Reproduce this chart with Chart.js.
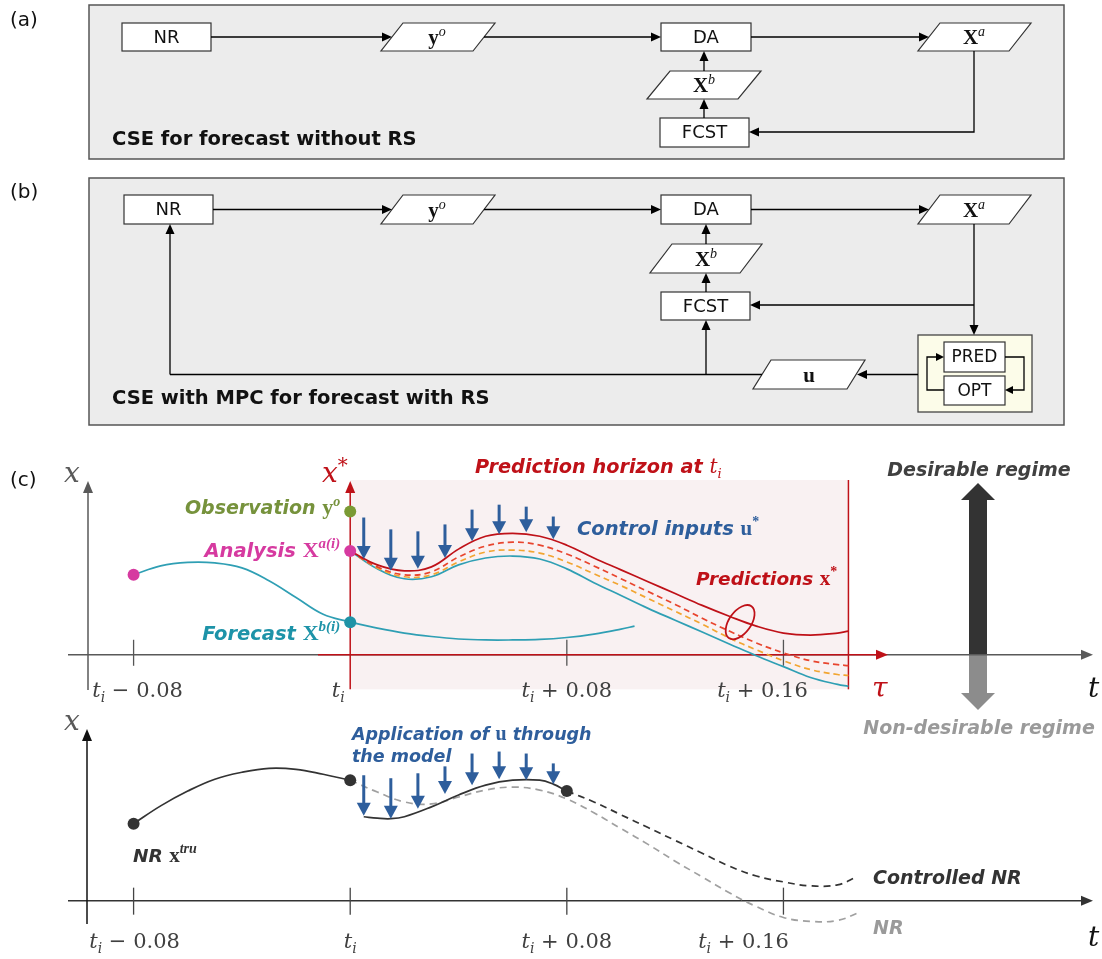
<!DOCTYPE html>
<html>
<head>
<meta charset="utf-8">
<script src="https://cdn.jsdelivr.net/npm/chart.js@4.4.1/dist/chart.umd.min.js"></script>
<style>
html,body{margin:0;padding:0;background:#ffffff;overflow:hidden;}
#wrap{position:relative;width:1102px;height:959px;}
canvas{display:block;}
</style>
</head>
<body>
<div id="wrap"><canvas id="chart" width="1102" height="959" style="width:1102px;height:959px"></canvas></div>
<script>
// ================= DATA (time is t - t_i, state x in arbitrary units) =================
const tickTimes  = [-0.08, 0, 0.08, 0.16];
const tickSuffix = ['\u2212 0.08', '', '+ 0.08', '+ 0.16'];
const horizonEnd = 0.184;

// upper panel
const tBefore        = [-0.08,-0.07,-0.06,-0.05,-0.04,-0.03,-0.02,-0.01,0];
const forecastBefore = [0.81,0.90,0.935,0.93,0.88,0.75,0.58,0.41,0.33];
const tForecastAfter = [0,0.01,0.02,0.03,0.04,0.05,0.06,0.07,0.08,0.09,0.10,0.105];
const forecastAfter  = [0.33,0.27,0.22,0.185,0.16,0.15,0.15,0.155,0.175,0.21,0.26,0.29];
const tHorizon       = [0,0.01,0.02,0.03,0.04,0.05,0.06,0.07,0.08,0.09,0.10,0.11,0.12,0.13,0.14,0.15,0.16,0.17,0.18,0.184];
const predOptimal    = [1.05,0.91,0.85,0.89,1.07,1.20,1.23,1.20,1.11,0.98,0.86,0.74,0.62,0.50,0.39,0.29,0.22,0.20,0.22,0.24];
const predIterB      = [1.05,0.89,0.81,0.84,0.99,1.10,1.14,1.11,1.02,0.90,0.77,0.64,0.51,0.37,0.24,0.12,0.02,-0.06,-0.10,-0.11];
const predIterA      = [1.05,0.88,0.79,0.81,0.94,1.04,1.06,1.03,0.94,0.82,0.70,0.57,0.44,0.31,0.17,0.05,-0.06,-0.15,-0.20,-0.21];
const predFirstGuess = [1.05,0.87,0.77,0.79,0.91,0.98,1.00,0.97,0.87,0.73,0.60,0.47,0.35,0.23,0.11,-0.01,-0.12,-0.23,-0.30,-0.32];
const tInputs        = [0.005,0.015,0.025,0.035,0.045,0.055,0.065,0.075];
const inputTopFrom   = [1.39,1.27,1.25,1.32,1.47,1.52,1.50,1.40];
const inputTopTo     = [0.97,0.85,0.87,0.98,1.15,1.22,1.24,1.17];
const observationVal = 1.45;
const analysisVal    = 1.05;
const forecastVal    = 0.33;
const analysisPrevVal= 0.81;
const ellipseCenter  = [0.144, 0.33];

// lower panel
const nrBefore          = [0.78,0.96,1.11,1.23,1.30,1.34,1.33,1.28,1.22];
const tControlled       = [0.005,0.01,0.015,0.02,0.03,0.04,0.05,0.06,0.07,0.075,0.08];
const controlledNR      = [0.85,0.835,0.83,0.85,0.95,1.07,1.17,1.22,1.22,1.18,1.11];
const tFree             = [0,0.01,0.02,0.03,0.04,0.05,0.06,0.07,0.08,0.09,0.10,0.11,0.12,0.13,0.14,0.15,0.16,0.17,0.18,0.188];
const freeNR            = [1.22,1.10,1.00,0.98,1.05,1.12,1.15,1.12,1.03,0.89,0.73,0.57,0.40,0.24,0.08,-0.06,-0.17,-0.21,-0.20,-0.12];
const tControlledFuture = [0.08,0.09,0.10,0.11,0.12,0.13,0.14,0.15,0.16,0.17,0.18,0.187];
const controlledFuture  = [1.11,1.00,0.87,0.74,0.61,0.48,0.35,0.25,0.19,0.15,0.16,0.24];
const inputBotFrom      = [1.27,1.24,1.29,1.36,1.49,1.51,1.49,1.39];
const inputBotTo        = [0.86,0.83,0.93,1.08,1.17,1.23,1.22,1.18];
const nrDotTimes        = [-0.08, 0, 0.08];
const nrDotVals         = [0.78, 1.22, 1.11];

// ================= STYLE =================
const C = {
  teal:'#2f9fb4', tealText:'#1d93a8', red:'#bf1118', redDash:'#e8452e', orange:'#f2a531',
  blue:'#2e5e9c', green:'#7a9a34', greenText:'#76923c', magenta:'#d63aa0', pink:'#f9f1f2',
  dark:'#333333', gray:'#9a9a9a', axis:'#555555'
};
const SANS = '"DejaVu Sans"';
const SERIF = '"Liberation Serif"';
const MSERIF = '"DejaVu Serif"';

function pts(t, v){ return t.map((x,i)=>({x:x, y:v[i]})); }
function lineDs(label, t, v, axis, color, extra){
  return Object.assign({label, data:pts(t,v), yAxisID:axis, borderColor:color, backgroundColor:color,
    borderWidth:1.7, pointRadius:0, fill:false, tension:0.4}, extra||{});
}

// ================= DRAW HELPERS =================
function seg(ctx, p, color, w, dash){
  ctx.save(); ctx.strokeStyle=color||'#000'; ctx.lineWidth=w||1.3; if(dash) ctx.setLineDash(dash);
  ctx.beginPath(); ctx.moveTo(p[0][0],p[0][1]); for(let i=1;i<p.length;i++) ctx.lineTo(p[i][0],p[i][1]);
  ctx.stroke(); ctx.restore();
}
function head(ctx, x, y, ang, len, wid, color){
  ctx.save(); ctx.translate(x,y); ctx.rotate(ang); ctx.beginPath();
  ctx.moveTo(0,0); ctx.lineTo(-len,-wid/2); ctx.lineTo(-len,wid/2); ctx.closePath();
  ctx.fillStyle=color||'#000'; ctx.fill(); ctx.restore();
}
function arrowPath(ctx, p, color, w, len, wid){
  len=len||10; wid=wid||9; const n=p.length;
  const [x1,y1]=p[n-2], [x2,y2]=p[n-1]; const a=Math.atan2(y2-y1,x2-x1);
  const q=p.slice(0,n-1).concat([[x2-Math.cos(a)*len*0.8, y2-Math.sin(a)*len*0.8]]);
  seg(ctx,q,color,w); head(ctx,x2,y2,a,len,wid,color);
}
function rich(ctx, parts, x, y, align){
  let total=0;
  parts.forEach(p=>{ ctx.font=p.f; p.w=ctx.measureText(p.t).width + (p.gap||0); total+=p.w; });
  let cx = align==='right' ? x-total : (align==='center' ? x-total/2 : x);
  ctx.textAlign='left'; ctx.textBaseline='alphabetic';
  parts.forEach(p=>{ ctx.font=p.f; ctx.fillStyle=p.c||'#000'; ctx.fillText(p.t, cx, y+(p.dy||0)); cx+=p.w; });
}
function rect(ctx,x1,y1,x2,y2,fill,stroke,lw){
  ctx.save(); ctx.fillStyle=fill; ctx.fillRect(x1,y1,x2-x1,y2-y1);
  ctx.strokeStyle=stroke||'#333'; ctx.lineWidth=lw||1.2; ctx.strokeRect(x1,y1,x2-x1,y2-y1); ctx.restore();
}
function para(ctx,bl,w,s,y1,y2){
  ctx.save(); ctx.beginPath(); ctx.moveTo(bl+s,y1); ctx.lineTo(bl+s+w,y1); ctx.lineTo(bl+w,y2); ctx.lineTo(bl,y2); ctx.closePath();
  ctx.fillStyle='#fff'; ctx.fill(); ctx.strokeStyle='#333'; ctx.lineWidth=1.2; ctx.stroke(); ctx.restore();
}
function boxText(ctx,t,cx,cy,size){
  ctx.save(); ctx.font=(size||18)+'px '+SANS; ctx.fillStyle='#111'; ctx.textAlign='center'; ctx.textBaseline='middle';
  ctx.fillText(t,cx,cy+1); ctx.restore();
}
function mathBox(ctx,base,sup,cx,cy){
  rich(ctx,[{t:base,f:'bold 21px '+SERIF,c:'#111'},{t:sup||'',f:'italic 14px '+SERIF,c:'#111',dy:-8}],cx,cy+7,'center');
}

// ================= FLOWCHARTS (a) and (b) =================
function drawFlowcharts(ctx){
  ctx.save();
  rich(ctx,[{t:'(a)',f:'20px '+SANS,c:'#111'}],10,26,'left');
  rich(ctx,[{t:'(b)',f:'20px '+SANS,c:'#111'}],10,198,'left');
  rich(ctx,[{t:'(c)',f:'20px '+SANS,c:'#111'}],10,486,'left');

  // (a)
  rect(ctx,89,5,1064,159,'#ececec','#555',1.5);
  rect(ctx,122,23,211,51,'#fff'); boxText(ctx,'NR',166.5,37);
  para(ctx,381,92,22,23,51); mathBox(ctx,'y','o',437,37);
  rect(ctx,661,23,751,51,'#fff'); boxText(ctx,'DA',706,37);
  para(ctx,918,91,22,23,51); mathBox(ctx,'X','a',974,37);
  para(ctx,647,91,23,71,99); mathBox(ctx,'X','b',704,85);
  rect(ctx,660,118,749,147,'#fff'); boxText(ctx,'FCST',704.5,132.5);
  arrowPath(ctx,[[211,37],[392,37]]);
  arrowPath(ctx,[[484,37],[661,37]]);
  arrowPath(ctx,[[751,37],[929,37]]);
  arrowPath(ctx,[[704,71],[704,51]]);
  arrowPath(ctx,[[704,118],[704,99]]);
  arrowPath(ctx,[[974,51],[974,132],[749,132]]);
  rich(ctx,[{t:'CSE for forecast without RS',f:'bold 19.5px '+SANS,c:'#111'}],112,145,'left');

  // (b)
  rect(ctx,89,178,1064,425,'#ececec','#555',1.5);
  rect(ctx,124,195,213,224,'#fff'); boxText(ctx,'NR',168.5,209.5);
  para(ctx,381,92,22,195,224); mathBox(ctx,'y','o',437,209.5);
  rect(ctx,661,195,751,224,'#fff'); boxText(ctx,'DA',706,209.5);
  para(ctx,918,91,22,195,224); mathBox(ctx,'X','a',974,209.5);
  para(ctx,650,90,22,244,273); mathBox(ctx,'X','b',706,258.5);
  rect(ctx,661,292,750,320,'#fff'); boxText(ctx,'FCST',705.5,306);
  rect(ctx,918,335,1032,412,'#fcfce9','#444',1.3);
  rect(ctx,944,342,1005,372,'#fff'); boxText(ctx,'PRED',974.5,357,17);
  rect(ctx,944,376,1005,405,'#fff'); boxText(ctx,'OPT',974.5,390.5,17);
  para(ctx,753,94,18,360,389); mathBox(ctx,'u','',809,374.5);
  arrowPath(ctx,[[213,209.5],[392,209.5]]);
  arrowPath(ctx,[[484,209.5],[661,209.5]]);
  arrowPath(ctx,[[751,209.5],[929,209.5]]);
  arrowPath(ctx,[[706,244],[706,224]]);
  arrowPath(ctx,[[706,292],[706,273]]);
  arrowPath(ctx,[[974,224],[974,335]]);
  arrowPath(ctx,[[974,305],[750,305]]);
  arrowPath(ctx,[[1005,357],[1024,357],[1024,390],[1005,390]],'#000',1.3,8,8);
  arrowPath(ctx,[[944,390],[927,390],[927,357],[944,357]],'#000',1.3,8,8);
  arrowPath(ctx,[[918,374.5],[857,374.5]]);
  seg(ctx,[[762,374.5],[170,374.5]],'#000',1.3);
  arrowPath(ctx,[[170,374.5],[170,224]]);
  arrowPath(ctx,[[706,374.5],[706,320]]);
  rich(ctx,[{t:'CSE with MPC for forecast with RS',f:'bold 19.5px '+SANS,c:'#111'}],112,404,'left');
  ctx.restore();
}

function tickLabel(ctx,cx,base,suffix,color){
  const parts=[{t:'t',f:'italic 21px '+MSERIF,c:color},{t:'i',f:'italic 14px '+MSERIF,c:color,dy:5}];
  if(suffix) parts.push({t:' '+suffix,f:'21px '+MSERIF,c:color});
  rich(ctx,parts,cx,base,'center');
}

// ================= PANEL (c) =================
const diagramPlugin = {
  id:'diagram',
  beforeDatasetsDraw(chart){
    const ctx=chart.ctx, xs=chart.scales.x, yT=chart.scales.yTop, yB=chart.scales.yBot;
    const X=t=>xs.getPixelForValue(t), YT=v=>yT.getPixelForValue(v), YB=v=>yB.getPixelForValue(v);
    drawFlowcharts(ctx);
    ctx.save();
    // prediction horizon shading
    const hx0=X(0), hx1=X(horizonEnd), hy0=YT(1.77), hy1=YT(-0.35);
    ctx.fillStyle=C.pink; ctx.fillRect(hx0,hy0,hx1-hx0,hy1-hy0);
    seg(ctx,[[hx1,hy0],[hx1,hy1]],C.red,1.5);

    // regime arrow
    const ax0=YT(0), rx=978;
    ctx.fillStyle='#333';
    ctx.beginPath(); ctx.moveTo(rx-9,ax0); ctx.lineTo(rx-9,500); ctx.lineTo(rx-17,500); ctx.lineTo(rx,483);
    ctx.lineTo(rx+17,500); ctx.lineTo(rx+9,500); ctx.lineTo(rx+9,ax0); ctx.closePath(); ctx.fill();
    ctx.fillStyle='#8c8c8c';
    ctx.beginPath(); ctx.moveTo(rx-9,ax0); ctx.lineTo(rx-9,693); ctx.lineTo(rx-17,693); ctx.lineTo(rx,710);
    ctx.lineTo(rx+17,693); ctx.lineTo(rx+9,693); ctx.lineTo(rx+9,ax0); ctx.closePath(); ctx.fill();

    // upper axes
    arrowPath(ctx,[[68,ax0],[1093,ax0]],'#595959',1.5,12,10);
    arrowPath(ctx,[[88,690],[88,481]],'#595959',1.5,12,10);
    tickTimes.forEach(t=>{ if(t!==0) seg(ctx,[[X(t),ax0-15],[X(t),ax0+11]],'#555',1.3); });
    arrowPath(ctx,[[318,ax0],[888,ax0]],C.red,1.5,12,10);
    arrowPath(ctx,[[X(0),YT(-0.35)],[X(0),481]],C.red,1.5,12,10);

    // lower axes
    const bx0=YB(0);
    arrowPath(ctx,[[68,bx0],[1093,bx0]],'#333',1.5,12,10);
    arrowPath(ctx,[[87,924],[87,729]],'#111',1.5,12,10);
    tickTimes.forEach(t=>{ seg(ctx,[[X(t),bx0-13],[X(t),bx0+14]],'#444',1.3); });
    ctx.restore();
  },
  afterDatasetsDraw(chart){
    const ctx=chart.ctx, xs=chart.scales.x, yT=chart.scales.yTop, yB=chart.scales.yBot;
    const X=t=>xs.getPixelForValue(t), YT=v=>yT.getPixelForValue(v), YB=v=>yB.getPixelForValue(v);
    ctx.save();
    // ellipse around predictions
    ctx.beginPath(); ctx.ellipse(X(ellipseCenter[0]),YT(ellipseCenter[1]),11,19.5,0.62,0,Math.PI*2);
    ctx.strokeStyle=C.red; ctx.lineWidth=1.8; ctx.stroke();

    // control input arrows
    tInputs.forEach((t,i)=>{
      arrowPath(ctx,[[X(t),YT(inputTopFrom[i])],[X(t),YT(inputTopTo[i])]],C.blue,3,13,14);
      arrowPath(ctx,[[X(t),YB(inputBotFrom[i])],[X(t),YB(inputBotTo[i])]],C.blue,3,13,14);
    });

    const LBL = s=>'bold italic '+s+'px '+SANS;
    const MB = s=>'bold '+s+'px '+SERIF;
    const MI = s=>'bold italic '+s+'px '+SERIF;
    // axis letters
    rich(ctx,[{t:'x',f:'italic 28px '+MSERIF,c:'#595959'}],64,482,'left');
    rich(ctx,[{t:'x',f:'italic 28px '+MSERIF,c:C.red},{t:'*',f:'20px '+MSERIF,c:C.red,dy:-10}],322,482,'left');
    rich(ctx,[{t:'\u03C4',f:'italic 28px '+MSERIF,c:C.red}],872,697,'left');
    rich(ctx,[{t:'t',f:'italic 28px '+MSERIF,c:'#111'}],1088,697,'left');
    rich(ctx,[{t:'x',f:'italic 28px '+MSERIF,c:'#595959'}],64,730,'left');
    rich(ctx,[{t:'t',f:'italic 28px '+MSERIF,c:'#111'}],1088,946,'left');

    // tick labels
    const topOff=[4,-12,0,-21], botOff=[1,0,0,-40];
    tickTimes.forEach((t,i)=>{
      tickLabel(ctx,X(t)+topOff[i],697,tickSuffix[i],'#404040');
      tickLabel(ctx,X(t)+botOff[i],948,tickSuffix[i],'#404040');
    });

    // upper annotations
    const lx = X(0)-10;
    rich(ctx,[{t:'Observation ',f:LBL(19),c:C.greenText},{t:'y',f:MB(22),c:C.greenText},{t:'o',f:MI(14),c:C.greenText,dy:-8}],lx,514,'right');
    rich(ctx,[{t:'Analysis ',f:LBL(19.5),c:C.magenta},{t:'X',f:MB(22),c:C.magenta},{t:'a(i)',f:MI(15),c:C.magenta,dy:-9}],lx,557,'right');
    rich(ctx,[{t:'Forecast ',f:LBL(19.5),c:C.tealText},{t:'X',f:MB(22),c:C.tealText},{t:'b(i)',f:MI(15),c:C.tealText,dy:-9}],lx,640,'right');
    rich(ctx,[{t:'Prediction horizon at ',f:LBL(19.3),c:C.red},{t:'t',f:'italic 20px '+MSERIF,c:C.red},{t:'i',f:'italic 13px '+MSERIF,c:C.red,dy:5}],475,473,'left');
    rich(ctx,[{t:'Control inputs ',f:LBL(19.5),c:C.blue},{t:'u',f:MB(21),c:C.blue},{t:'*',f:MB(14),c:C.blue,dy:-9}],577,535,'left');
    rich(ctx,[{t:'Predictions ',f:LBL(18.5),c:C.red},{t:'x',f:MB(21),c:C.red},{t:'*',f:MB(14),c:C.red,dy:-9}],696,585,'left');
    rich(ctx,[{t:'Desirable regime',f:LBL(19),c:'#404040'}],979,476,'center');
    rich(ctx,[{t:'Non-desirable regime',f:LBL(19),c:'#9a9a9a'}],979,734,'center');

    // lower annotations
    rich(ctx,[{t:'Application of ',f:LBL(17.5),c:C.blue},{t:'u',f:MB(20),c:C.blue},{t:' through',f:LBL(17.5),c:C.blue}],352,740,'left');
    rich(ctx,[{t:'the model',f:LBL(17.5),c:C.blue}],352,762,'left');
    rich(ctx,[{t:'NR ',f:LBL(18.5),c:'#333'},{t:'x',f:MB(21),c:'#333'},{t:'tru',f:MI(14),c:'#333',dy:-9}],133,862,'left');
    rich(ctx,[{t:'Controlled NR',f:LBL(19),c:'#333'}],873,884,'left');
    rich(ctx,[{t:'NR',f:LBL(19),c:'#9a9a9a'}],873,934,'left');
    ctx.restore();
  }
};

const datasets = [
  {label:'upper markers', yAxisID:'yTop', showLine:false,
   data:[{x:0,y:observationVal},{x:0,y:analysisVal},{x:0,y:forecastVal},{x:tBefore[0],y:analysisPrevVal}],
   pointRadius:6, pointHoverRadius:6, pointBorderWidth:0,
   pointBackgroundColor:[C.green,C.magenta,'#1f93a6',C.magenta]},
  {label:'lower markers', yAxisID:'yBot', showLine:false, data:pts(nrDotTimes,nrDotVals),
   pointRadius:6, pointHoverRadius:6, pointBorderWidth:0, pointBackgroundColor:'#333'},
  lineDs('Prediction (optimal)', tHorizon, predOptimal, 'yTop', C.red),
  lineDs('Prediction (iteration 2)', tHorizon, predIterB, 'yTop', C.redDash, {borderDash:[6,4]}),
  lineDs('Prediction (iteration 1)', tHorizon, predIterA, 'yTop', C.orange, {borderDash:[6,4]}),
  lineDs('Prediction (first guess)', tHorizon, predFirstGuess, 'yTop', C.teal),
  lineDs('Forecast before', tBefore, forecastBefore, 'yTop', C.teal),
  lineDs('Forecast after', tForecastAfter, forecastAfter, 'yTop', C.teal),
  lineDs('NR before', tBefore, nrBefore, 'yBot', '#333'),
  lineDs('Controlled NR (applied)', tControlled, controlledNR, 'yBot', '#333'),
  lineDs('Controlled NR (future)', tControlledFuture, controlledFuture, 'yBot', '#333', {borderDash:[7,5]}),
  lineDs('NR free run', tFree, freeNR, 'yBot', '#a0a0a0', {borderDash:[7,5]})
];

new Chart(document.getElementById('chart'), {
  type:'line',
  data:{datasets},
  options:{
    responsive:false, animation:false, devicePixelRatio:1,
    layout:{padding:0},
    plugins:{legend:{display:false}, tooltip:{enabled:false}, title:{display:false}},
    events:[],
    scales:{
      x:{type:'linear', display:false, min:-0.12712, max:0.27543},
      yTop:{type:'linear', display:false, min:-3.02, max:6.57},
      yBot:{type:'linear', display:false, min:-0.53, max:9.06}
    }
  },
  plugins:[diagramPlugin]
});
</script>
</body>
</html>
